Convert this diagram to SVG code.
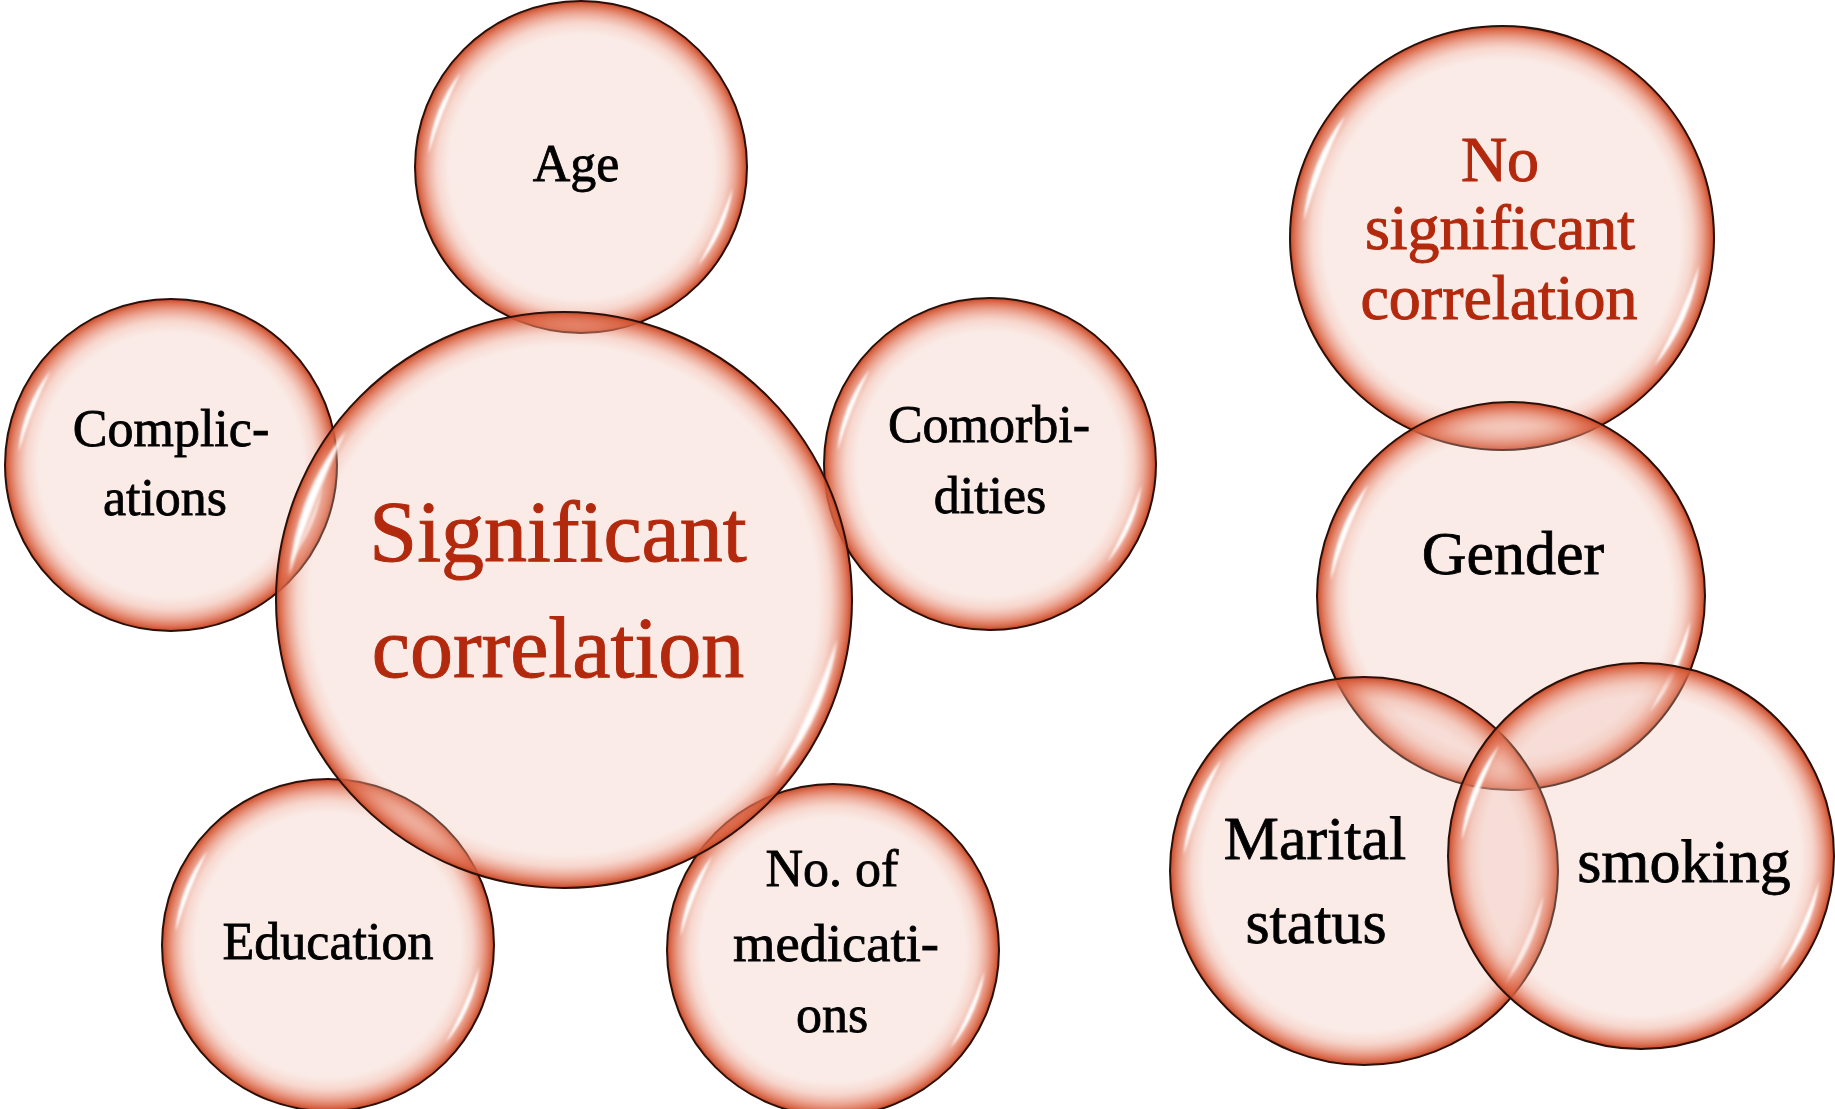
<svg xmlns="http://www.w3.org/2000/svg" xmlns:xlink="http://www.w3.org/1999/xlink" width="1835" height="1109" viewBox="0 0 1835 1109">
  <style>
    .bubble { stroke: #2a1008; stroke-width: 2; }
    .shine { fill: #ffffff; opacity: 1; filter: url(#soft); }
    .lbl { font-family: "Liberation Serif", "DejaVu Serif", serif; fill: #000000; stroke: #000000; stroke-width: 0.8; text-anchor: middle; }
    .lbl-s { font-size: 52px; }
    .lbl-m { font-size: 62px; }
    .head { font-family: "Liberation Serif", "DejaVu Serif", serif; fill: #b3290d; stroke: #b3290d; stroke-width: 1; text-anchor: middle; }
  </style>
  <defs>
    <!-- translucent glassy fills, one per bubble size so the rim band keeps a constant width -->
    <radialGradient id="fill166" cx="50%" cy="50%" r="50%">
      <stop offset="0" stop-color="#eebcaf" stop-opacity="0.3"/>
      <stop offset="0.795" stop-color="#eebcaf" stop-opacity="0.3"/>
      <stop offset="0.867" stop-color="#eca08a" stop-opacity="0.42"/>
      <stop offset="0.928" stop-color="#e2765a" stop-opacity="0.65"/>
      <stop offset="0.976" stop-color="#d65c3a" stop-opacity="0.9"/>
      <stop offset="1" stop-color="#c44626" stop-opacity="1"/>
    </radialGradient>
    <radialGradient id="fill194" cx="50%" cy="50%" r="50%">
      <stop offset="0" stop-color="#eebcaf" stop-opacity="0.3"/>
      <stop offset="0.825" stop-color="#eebcaf" stop-opacity="0.3"/>
      <stop offset="0.887" stop-color="#eca08a" stop-opacity="0.42"/>
      <stop offset="0.938" stop-color="#e2765a" stop-opacity="0.65"/>
      <stop offset="0.979" stop-color="#d65c3a" stop-opacity="0.9"/>
      <stop offset="1" stop-color="#c44626" stop-opacity="1"/>
    </radialGradient>
    <radialGradient id="fill212" cx="50%" cy="50%" r="50%">
      <stop offset="0" stop-color="#eebcaf" stop-opacity="0.3"/>
      <stop offset="0.840" stop-color="#eebcaf" stop-opacity="0.3"/>
      <stop offset="0.896" stop-color="#eca08a" stop-opacity="0.42"/>
      <stop offset="0.943" stop-color="#e2765a" stop-opacity="0.65"/>
      <stop offset="0.981" stop-color="#d65c3a" stop-opacity="0.9"/>
      <stop offset="1" stop-color="#c44626" stop-opacity="1"/>
    </radialGradient>
    <radialGradient id="fill288" cx="50%" cy="50%" r="50%">
      <stop offset="0" stop-color="#eebcaf" stop-opacity="0.3"/>
      <stop offset="0.882" stop-color="#eebcaf" stop-opacity="0.3"/>
      <stop offset="0.924" stop-color="#eca08a" stop-opacity="0.42"/>
      <stop offset="0.958" stop-color="#e2765a" stop-opacity="0.65"/>
      <stop offset="0.986" stop-color="#d65c3a" stop-opacity="0.9"/>
      <stop offset="1" stop-color="#c44626" stop-opacity="1"/>
    </radialGradient>
    <filter id="soft" x="-20%" y="-20%" width="140%" height="140%">
      <feGaussianBlur stdDeviation="0.6"/>
    </filter>
    <!-- two crescent glints on a unit (r=100) ring: upper-left and lower-right -->
    <path id="glint" d="M-99.62,-8.72 A100,100 0 0 1 -78.80,-61.57 A360,360 0 0 0 -99.62,-8.72 Z M99.03,13.92 A100,100 0 0 1 76.60,64.28 A340,340 0 0 0 99.03,13.92 Z"/>
  </defs>

  <rect width="1835" height="1109" fill="#ffffff"/>

  <!-- left cluster: significant correlation -->
  <g id="node-complications">
    <circle class="bubble" cx="171" cy="465" r="166" fill="url(#fill166)"/>
    <use xlink:href="#glint" class="shine" transform="translate(171,465) scale(1.53)"/>
    <text class="lbl lbl-s" x="171" y="446">Complic-</text>
    <text class="lbl lbl-s" x="165" y="515">ations</text>
  </g>

  <g id="node-comorbidities">
    <circle class="bubble" cx="990" cy="464" r="166" fill="url(#fill166)"/>
    <use xlink:href="#glint" class="shine" transform="translate(990,464) scale(1.53)"/>
    <text class="lbl lbl-s" x="989" y="442">Comorbi-</text>
    <text class="lbl lbl-s" x="990" y="513">dities</text>
  </g>

  <g id="node-education">
    <circle class="bubble" cx="328" cy="945" r="166" fill="url(#fill166)"/>
    <use xlink:href="#glint" class="shine" transform="translate(328,945) scale(1.53)"/>
    <text class="lbl lbl-s" x="328" y="959">Education</text>
  </g>

  <g id="node-medications">
    <circle class="bubble" cx="833" cy="950" r="166" fill="url(#fill166)"/>
    <use xlink:href="#glint" class="shine" transform="translate(833,950) scale(1.53)"/>
    <text class="lbl lbl-s" x="832" y="886">No. of</text>
    <text class="lbl lbl-s" x="836" y="961" textLength="206" lengthAdjust="spacingAndGlyphs">medicati-</text>
    <text class="lbl lbl-s" x="832" y="1032">ons</text>
  </g>

  <g id="node-age">
    <circle class="bubble" cx="581" cy="167" r="166" fill="url(#fill166)"/>
    <use xlink:href="#glint" class="shine" transform="translate(581,167) scale(1.53)"/>
    <text class="lbl lbl-s" x="576" y="181">Age</text>
  </g>

  <g id="node-significant">
    <circle class="bubble" cx="564" cy="600" r="288" fill="url(#fill288)"/>
    <use xlink:href="#glint" class="shine" transform="translate(564,600) scale(2.76)"/>
    <text class="head" x="558" y="561" font-size="86">Significant</text>
    <text class="head" x="558" y="677" font-size="86">correlation</text>
  </g>

  <!-- right cluster: no significant correlation -->
  <g id="node-no-significant">
    <circle class="bubble" cx="1502" cy="238" r="212" fill="url(#fill212)"/>
    <use xlink:href="#glint" class="shine" transform="translate(1502,238) scale(1.99)"/>
    <text class="head" x="1500" y="181" font-size="64">No</text>
    <text class="head" x="1500" y="249" font-size="64">significant</text>
    <text class="head" x="1499" y="319" font-size="64">correlation</text>
  </g>

  <g id="node-gender">
    <circle class="bubble" cx="1511" cy="596" r="194" fill="url(#fill194)"/>
    <use xlink:href="#glint" class="shine" transform="translate(1511,596) scale(1.81)"/>
    <text class="lbl lbl-m" x="1513" y="574">Gender</text>
  </g>

  <g id="node-marital">
    <circle class="bubble" cx="1364" cy="871" r="194" fill="url(#fill194)"/>
    <use xlink:href="#glint" class="shine" transform="translate(1364,871) scale(1.81)"/>
    <text class="lbl lbl-m" x="1315" y="859">Marital</text>
    <text class="lbl lbl-m" x="1316" y="943">status</text>
  </g>

  <g id="node-smoking">
    <circle class="bubble" cx="1641" cy="856" r="193" fill="url(#fill194)"/>
    <use xlink:href="#glint" class="shine" transform="translate(1641,856) scale(1.80)"/>
    <text class="lbl lbl-m" x="1684" y="882">smoking</text>
  </g>
</svg>
